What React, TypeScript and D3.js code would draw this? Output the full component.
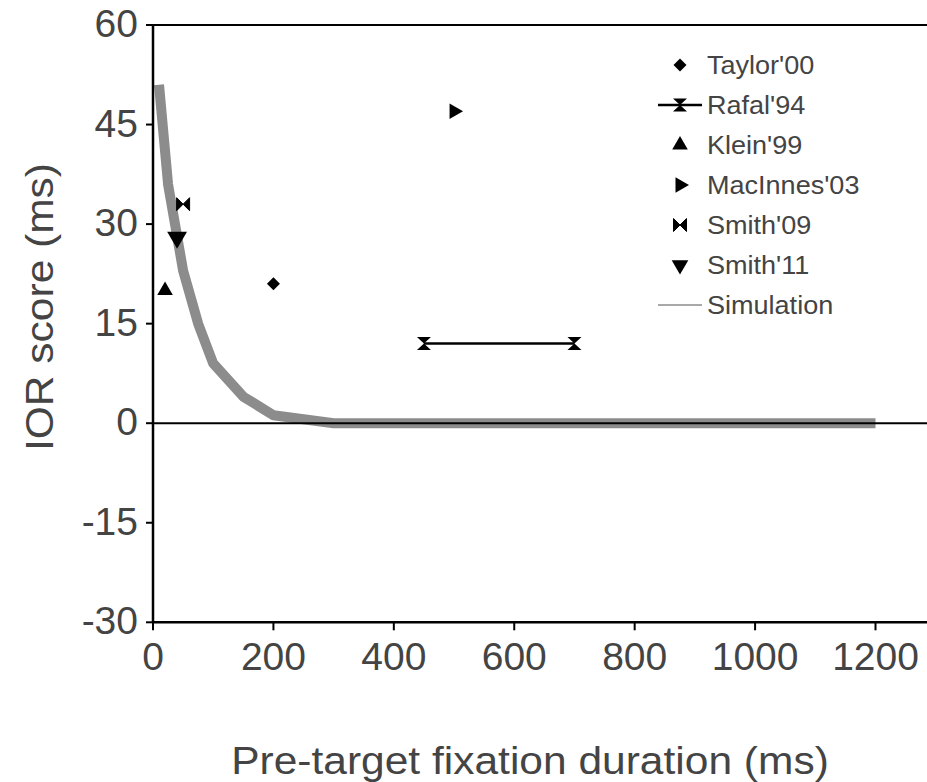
import React from "react";
import * as d3 from "d3";

const W = 927;
const H = 782;

const yTicks = [60, 45, 30, 15, 0, -15, -30];
const xTicks = [0, 200, 400, 600, 800, 1000, 1200];

const legendLabels = ["Taylor'00", "Rafal'94", "Klein'99", "MacInnes'03", "Smith'09", "Smith'11", "Simulation"];

const taylorX = [200];
const taylorY = [21];
const rafalX = [450, 700];
const rafalY = [12, 12];
const kleinX = [20];
const kleinY = [20];
const macinnesX = [500];
const macinnesY = [47];
const smith09X = [50];
const smith09Y = [33];
const smith11X = [40];
const smith11Y = [28];

const simX = [10, 25, 50, 75, 100, 150, 200, 300, 400, 600, 800, 1000, 1200];
const simY = [51, 36, 23, 15, 9, 4, 1.2, 0, 0, 0, 0, 0, 0];

const FONT = "'Liberation Sans', Arial, Helvetica, sans-serif";
const TXT = "#444";

const x = d3.scaleLinear().domain([0, 1200]).range([153, 875.5]);
const y = d3.scaleLinear().domain([-30, 60]).range([622.3, 25]);

const bowtieH = "M-6.5,-6.5L0,0L-6.5,6.5Z M6.5,-6.5L0,0L6.5,6.5Z";
const hourglass = "M-7,-6.5L7,-6.5L0,0Z M-7,6.5L7,6.5L0,0Z";
const tri = (s: number) => d3.symbol().type(d3.symbolTriangle).size(s)() as string;
const diamond = "M0,-6.5L6.5,0L0,6.5L-6.5,0Z";

function Marker({ kind, cx, cy, big }: { kind: string; cx: number; cy: number; big?: boolean }) {
  if (kind === "diamond") return <path d={diamond} transform={`translate(${cx},${cy})`} fill="#000" />;
  if (kind === "up") return <path d={tri(big ? 130 : 105)} transform={`translate(${cx},${cy})`} fill="#000" />;
  if (kind === "down") return <path d={tri(big ? 170 : 120)} transform={`translate(${cx},${cy}) rotate(180)`} fill="#000" />;
  if (kind === "right") return <path d={tri(105)} transform={`translate(${cx},${cy}) rotate(90)`} fill="#000" />;
  if (kind === "bowtie") return <path d={bowtieH} transform={`translate(${cx},${cy})`} fill="#000" stroke="#000" strokeWidth={1} />;
  if (kind === "hourglass") return <path d={hourglass} transform={`translate(${cx},${cy})`} fill="#000" />;
  return null;
}

function T({ x0, y0, children, anchor = "start", size = 38, rot = 0, sx = 1 }: any) {
  return (
    <g transform={`translate(${x0},${y0}) rotate(${rot}) scale(${sx},1)`}>
      <text textAnchor={anchor} fontSize={size} fontFamily={FONT} fill={TXT}>
        {children}
      </text>
    </g>
  );
}

export default function App() {
  const simLine = d3
    .line<number>()
    .x((_, i) => x(simX[i]))
    .y((d) => y(d));
  const legendKinds = ["diamond", "rafal", "up", "right", "bowtie", "down", "sim"];
  const legendY0 = 65;
  const legendStep = 40;
  return (
    <svg width={W} height={H} style={{ position: "absolute", left: 0, top: 0, background: "#fff" }}>
      <rect width={W} height={H} fill="#fff" />
      <path d={simLine(simY) as string} fill="none" stroke="#8c8c8c" strokeWidth={10} strokeLinejoin="round" />
      <line x1={x(0)} x2={W} y1={y(60)} y2={y(60)} stroke="#000" strokeWidth={2} />
      <line x1={x(0)} x2={W} y1={y(0)} y2={y(0)} stroke="#000" strokeWidth={2} />
      <line x1={x(0)} x2={W} y1={y(-30)} y2={y(-30)} stroke="#000" strokeWidth={2.5} />
      <line x1={x(0)} x2={x(0)} y1={y(60)} y2={y(-30)} stroke="#000" strokeWidth={2.5} />
      {yTicks.map((t) => (
        <g key={"y" + t}>
          <line x1={x(0) - 7} x2={x(0)} y1={y(t)} y2={y(t)} stroke="#000" strokeWidth={2} />
          <T x0={x(0) - 15} y0={y(t) + 12} anchor="end" size={39}>{t}</T>
        </g>
      ))}
      {xTicks.map((t) => (
        <g key={"x" + t}>
          <line x1={x(t)} x2={x(t)} y1={y(-30)} y2={y(-30) + 8} stroke="#000" strokeWidth={2} />
          <T x0={x(t)} y0={670} anchor="middle" size={39}>{t}</T>
        </g>
      ))}
      <T x0={(228 + 832) / 2} y0={774} anchor="middle" size={39} sx={1.09}>Pre-target fixation duration (ms)</T>
      <T x0={53} y0={307} anchor="middle" size={39} rot={-90} sx={1.09}>IOR score (ms)</T>
      <line x1={x(rafalX[0])} x2={x(rafalX[1])} y1={y(rafalY[0])} y2={y(rafalY[1])} stroke="#000" strokeWidth={2.5} />
      {rafalX.map((v, i) => (
        <Marker key={"r" + i} kind="hourglass" cx={x(v)} cy={y(rafalY[i])} />
      ))}
      <Marker kind="diamond" cx={x(taylorX[0])} cy={y(taylorY[0])} />
      <Marker kind="up" cx={x(kleinX[0])} cy={y(kleinY[0])} />
      <Marker kind="right" cx={x(macinnesX[0])} cy={y(macinnesY[0])} />
      <Marker kind="bowtie" cx={x(smith09X[0])} cy={y(smith09Y[0])} />
      <Marker kind="down" cx={x(smith11X[0])} cy={y(smith11Y[0])} big />
      {legendLabels.map((lab, i) => {
        const ly = legendY0 + i * legendStep;
        const k = legendKinds[i];
        return (
          <g key={lab}>
            {k === "rafal" && (
              <>
                <line x1={658} x2={702} y1={ly} y2={ly} stroke="#000" strokeWidth={2.5} />
                <Marker kind="hourglass" cx={680} cy={ly} />
              </>
            )}
            {k === "sim" && <line x1={658} x2={702} y1={ly} y2={ly} stroke="#8c8c8c" strokeWidth={1.5} />}
            {k !== "rafal" && k !== "sim" && <Marker kind={k} cx={680} cy={ly} />}
            <T x0={707} y0={ly + 9} size={26} sx={1.04}>{lab}</T>
          </g>
        );
      })}
    </svg>
  );
}
